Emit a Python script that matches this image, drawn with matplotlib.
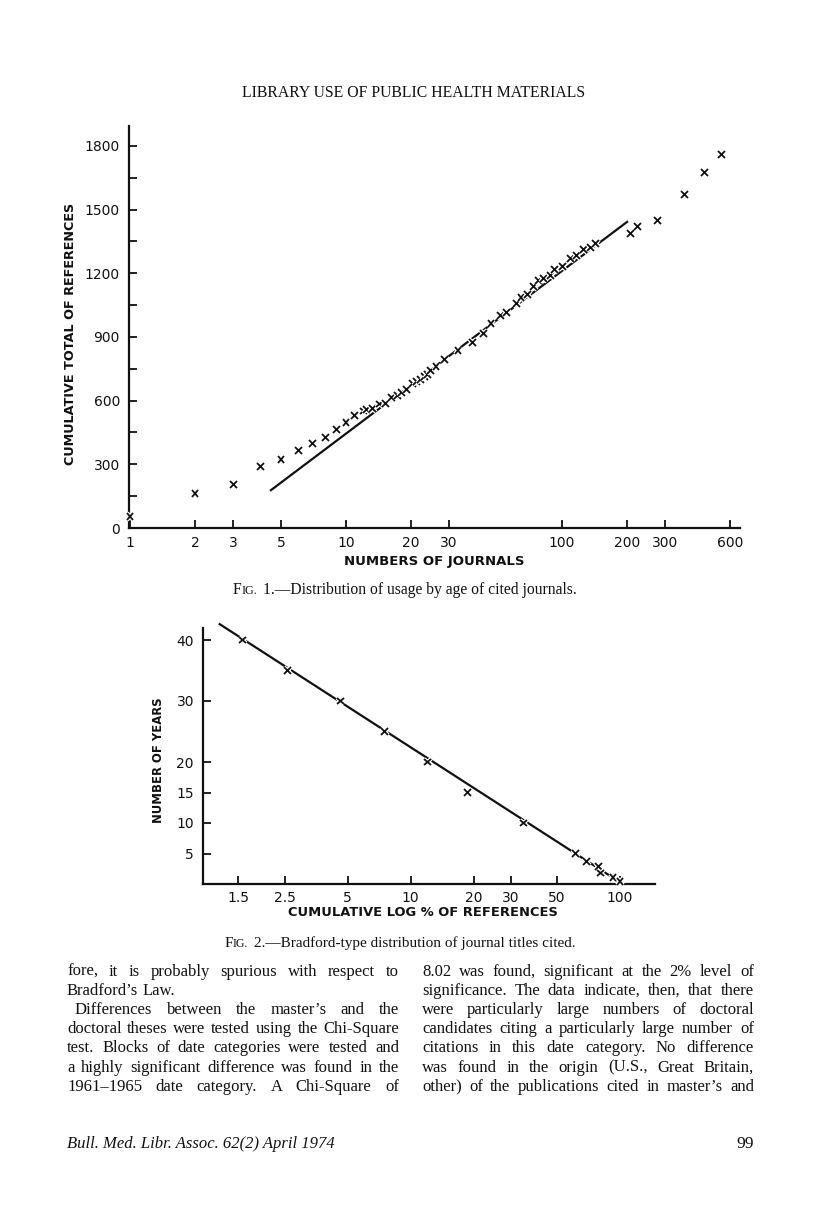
import matplotlib
matplotlib.use('Agg')
import matplotlib.pyplot as plt
import matplotlib.patheffects as pe

# ---------------- data ----------------
fig1_journals = [1, 2, 3, 4, 5, 6, 7, 8, 9, 10, 11, 12, 12.5, 13.3, 14.3, 15.3,
                 16.3, 17.3, 18.1, 19.1, 20.4, 21.3, 22.2, 23, 23.8, 24.7, 26.1,
                 28.5, 33, 38.4, 43.1, 46.9, 51.8, 55.3, 61.4, 64.6, 69, 73.5,
                 77.9, 82.1, 88.2, 92.3, 101, 109, 117, 126, 135, 143, 207, 223,
                 276, 368, 458, 547]
fig1_refs = [55, 163, 203, 289, 324, 364, 399, 427, 466, 498, 529, 551, 557, 562,
             584, 588, 616, 622, 637, 654, 680, 690, 701, 713, 724, 741, 760,
             792, 836, 875, 917, 965, 999, 1016, 1059, 1087, 1101, 1137, 1164,
             1173, 1189, 1216, 1231, 1271, 1283, 1310, 1323, 1338, 1389, 1420,
             1447, 1569, 1676, 1761]
fig1_fit_x = [4.45, 202]
fig1_fit_y = [175, 1445]
fig1_xticks = [1, 2, 3, 5, 10, 20, 30, 100, 200, 300, 600]
fig1_xticklabels = ['1', '2', '3', '5', '10', '20', '30', '100', '200', '300', '600']
fig1_yticks = [0, 300, 600, 900, 1200, 1500, 1800]
fig1_yminor = [150, 450, 750, 1050, 1350, 1650]

fig2_pct = [1.57, 2.57, 4.64, 7.48, 12.0, 18.7, 34.5, 61.4, 69.5, 79.1, 81, 92.6, 100]
fig2_years = [40, 35, 30, 25, 20, 15, 10, 5, 3.7, 2.8, 1.8, 1.0, 0.4]
fig2_fit_x = [1.21, 103]
fig2_fit_y = [42.7, 0]
fig2_xticks = [1.5, 2.5, 5, 10, 20, 30, 50, 100]
fig2_xticklabels = ['1.5', '2.5', '5', '10', '20', '30', '50', '100']
fig2_yticks = [5, 10, 15, 20, 30, 40]

header = 'LIBRARY USE OF PUBLIC HEALTH MATERIALS'
fig1_xlabel = 'NUMBERS OF JOURNALS'
fig1_ylabel = 'CUMULATIVE TOTAL OF REFERENCES'
fig2_xlabel = 'CUMULATIVE LOG % OF REFERENCES'
fig2_ylabel = 'NUMBER OF YEARS'
cap1_num = '1.—Distribution of usage by age of cited journals.'
cap2_num = '2.—Bradford-type distribution of journal titles cited.'

left_col = [
    ('fore, it is probably spurious with respect to', False, True),
    ('Bradford’s Law.', False, False),
    ('Differences between the master’s and the', True, True),
    ('doctoral theses were tested using the Chi-Square', False, True),
    ('test. Blocks of date categories were tested and', False, True),
    ('a highly significant difference was found in the', False, True),
    ('1961–1965 date category. A Chi-Square of', False, True),
]
right_col = [
    ('8.02 was found, significant at the 2% level of', False, True),
    ('significance. The data indicate, then, that there', False, True),
    ('were particularly large numbers of doctoral', False, True),
    ('candidates citing a particularly large number of', False, True),
    ('citations in this date category. No difference', False, True),
    ('was found in the origin (U.S., Great Britain,', False, True),
    ('other) of the publications cited in master’s and', False, True),
]
footer_left = 'Bull. Med. Libr. Assoc. 62(2) April 1974'
footer_right = '99'

# ---------------- figure ----------------
W, H = 816, 1207
fig = plt.figure(figsize=(W / 100, H / 100), dpi=100)
fig.patch.set_facecolor('white')
renderer = fig.canvas.get_renderer()
INK = '#111111'
SERIF = 'Liberation Serif'
SANS = 'DejaVu Sans'


def fxy(x, y):
    return x / W, 1 - y / H


def text_width(s, **kw):
    t = fig.text(0, 0, s, **kw)
    w = t.get_window_extent(renderer).width
    t.remove()
    return w


def fit_size(s, target, **kw):
    return 10 * target / text_width(s, size=10, **kw)


def put(x, y, s, **kw):
    fx, fy = fxy(x, y)
    return fig.text(fx, fy, s, color=INK, **kw)


def place_runs(runs, x, y, ha='center'):
    widths = []
    for item in runs:
        if isinstance(item, (int, float)):
            widths.append(item)
        else:
            widths.append(text_width(item[0], **item[1]))
    total = sum(widths)
    cur = x - total / 2 if ha == 'center' else (x - total if ha == 'right' else x)
    for item, w in zip(runs, widths):
        if not isinstance(item, (int, float)):
            put(cur, y, item[0], ha='left', va='baseline', **item[1])
        cur += w


# header
hs = fit_size(header, 345, family=SERIF)
put(414, 97, header, ha='center', va='baseline', family=SERIF, size=hs)

halo = [pe.withStroke(linewidth=3.0, foreground='white')]

# ---------------- Figure 1 ----------------
ax1 = fig.add_axes([129 / W, 1 - 528 / H, (740 - 129) / W, (528 - 126) / H])
ax1.set_xscale('log')
ax1.set_xlim(10 ** (-1 / 216), 10 ** ((740 - 130) / 216))
ax1.set_ylim(0, (528 - 126) / 0.2123)
ax1.plot(fig1_fit_x, fig1_fit_y, color=INK, lw=1.6, solid_capstyle='butt', zorder=2)
ax1.plot(fig1_journals, fig1_refs, linestyle='none', marker='x', ms=5, mew=1.3,
         color=INK, path_effects=halo, zorder=3, clip_on=False)
for s in ['top', 'right']:
    ax1.spines[s].set_visible(False)
for s in ['left', 'bottom']:
    ax1.spines[s].set_linewidth(1.6)
    ax1.spines[s].set_color(INK)
ax1.set_xticks(fig1_xticks)
ax1.set_xticklabels(fig1_xticklabels)
ax1.xaxis.set_minor_locator(matplotlib.ticker.NullLocator())
ax1.set_yticks(fig1_yticks)
ax1.set_yticks(fig1_yminor, minor=True)
ax1.tick_params(axis='both', which='both', direction='in', length=5.5, width=1.3,
                color=INK, labelcolor=INK, labelsize=10)
ax1.tick_params(axis='y', pad=6.5)
ax1.tick_params(axis='x', pad=5.5)
for lab in ax1.get_xticklabels() + ax1.get_yticklabels():
    lab.set_family(SANS)

s = fit_size(fig1_xlabel, 180, family=SANS, weight='bold')
put(434, 561, fig1_xlabel, ha='center', va='center', family=SANS, weight='bold', size=s)
s = fit_size(fig1_ylabel, 264, family=SANS, weight='bold')
put(71, 334, fig1_ylabel, ha='center', va='center', rotation=90, family=SANS,
    weight='bold', size=s)

# caption 1
cs = fit_size('FIG. ' + cap1_num, 346, family=SERIF)
sp = text_width('a a', family=SERIF, size=cs) - text_width('aa', family=SERIF, size=cs)
place_runs([('F', dict(family=SERIF, size=cs)), ('IG.', dict(family=SERIF, size=cs * 0.78)),
            sp * 1.6, (cap1_num, dict(family=SERIF, size=cs))], 405, 594)

# ---------------- Figure 2 ----------------
ax2 = fig.add_axes([203 / W, 1 - 884 / H, (655 - 203) / W, (884 - 628) / H])
ax2.set_xscale('log')
ax2.set_xlim(10 ** (1 + (203 - 410.7) / 209.3), 10 ** (1 + (655 - 410.7) / 209.3))
ax2.set_ylim(0, (884 - 628) / 6.1)
ax2.plot(fig2_fit_x, fig2_fit_y, color=INK, lw=1.6, solid_capstyle='butt', zorder=2,
         clip_on=False)
ax2.plot(fig2_pct, fig2_years, linestyle='none', marker='x', ms=5, mew=1.3,
         color=INK, path_effects=halo, zorder=3, clip_on=False)
for s_ in ['top', 'right']:
    ax2.spines[s_].set_visible(False)
for s_ in ['left', 'bottom']:
    ax2.spines[s_].set_linewidth(1.6)
    ax2.spines[s_].set_color(INK)
ax2.set_xticks(fig2_xticks)
ax2.set_xticklabels(fig2_xticklabels)
ax2.xaxis.set_minor_locator(matplotlib.ticker.NullLocator())
ax2.set_yticks(fig2_yticks)
ax2.tick_params(axis='both', which='both', direction='in', length=5.5, width=1.3,
                color=INK, labelcolor=INK, labelsize=10)
ax2.tick_params(axis='y', pad=6.5)
ax2.tick_params(axis='x', pad=5)
for lab in ax2.get_xticklabels() + ax2.get_yticklabels():
    lab.set_family(SANS)

s = fit_size(fig2_xlabel, 270, family=SANS, weight='bold')
put(423, 913, fig2_xlabel, ha='center', va='center', family=SANS, weight='bold', size=s)
s = fit_size(fig2_ylabel, 126, family=SANS, weight='bold')
put(158, 760, fig2_ylabel, ha='center', va='center', rotation=90, family=SANS,
    weight='bold', size=s)

cs2 = fit_size('FIG. ' + cap2_num, 355, family=SERIF)
sp2 = text_width('a a', family=SERIF, size=cs2) - text_width('aa', family=SERIF, size=cs2)
place_runs([('F', dict(family=SERIF, size=cs2)), ('IG.', dict(family=SERIF, size=cs2 * 0.78)),
            sp2 * 1.6, (cap2_num, dict(family=SERIF, size=cs2))], 400, 947)

# ---------------- body text ----------------
col_left = (67, 399)
col_right = (422, 754)
size = 12.0
allines = [l[0] for l in left_col + right_col]
while size > 6:
    spc = text_width('a a', family=SERIF, size=size) - text_width('aa', family=SERIF, size=size)
    widest = 0
    for ln in allines:
        words = ln.split(' ')
        wsum = sum(text_width(w, family=SERIF, size=size) for w in words)
        widest = max(widest, wsum + spc * 0.45 * (len(words) - 1))
    if widest <= 332:
        break
    size -= 0.1
body_size = size
spc = text_width('a a', family=SERIF, size=body_size) - text_width('aa', family=SERIF, size=body_size)


def draw_column(lines, x0, x1, y0, dy):
    for i, (ln, indent, justify) in enumerate(lines):
        y = y0 + i * dy
        words = ln.split(' ')
        widths = [text_width(w, family=SERIF, size=body_size) for w in words]
        start = x0 + (8 if indent else 0)
        if justify and len(words) > 1:
            gap = (x1 - start - sum(widths)) / (len(words) - 1)
        else:
            gap = spc
        cur = start
        for w, wd in zip(words, widths):
            put(cur, y, w, ha='left', va='baseline', family=SERIF, size=body_size)
            cur += wd + gap


draw_column(left_col, col_left[0], col_left[1], 976, 19.1)
draw_column(right_col, col_right[0], col_right[1], 976, 19.1)

put(67, 1148, footer_left, ha='left', va='baseline', family=SERIF, style='italic',
    size=body_size)
put(754, 1148, footer_right, ha='right', va='baseline', family=SERIF, size=body_size * 1.05)

fig.savefig('out.png', dpi=100, facecolor='white')
